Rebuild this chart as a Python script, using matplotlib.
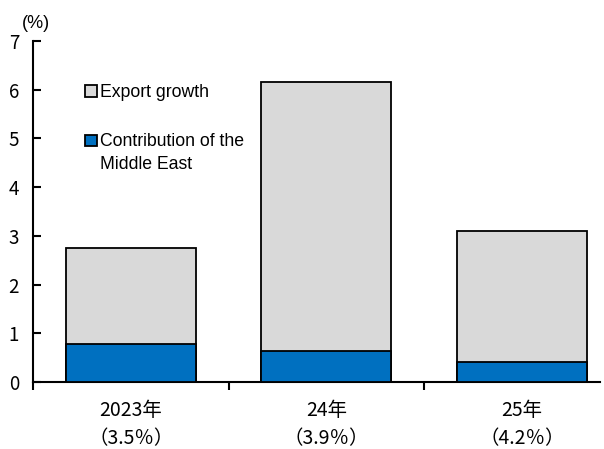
import matplotlib.pyplot as plt
from matplotlib.patches import Rectangle

# data
years = ["2023年", "24年", "25年"]
growth_notes = ["（3.5％）", "（3.9％）", "（4.2％）"]
export_growth = [2.75, 6.16, 3.10]
middle_east = [0.78, 0.64, 0.41]

gray = "#D9D9D9"
blue = "#0070C0"

plt.rcParams['font.family'] = ['Liberation Sans', 'Noto Sans CJK JP']
plt.rcParams['font.size'] = 12.7
narrow = ['Liberation Sans Narrow', 'Noto Sans CJK JP']

fig = plt.figure(figsize=(6.04, 4.49), dpi=100)
ax = fig.add_axes([33 / 604, 1 - 382 / 449, (600 - 33) / 604, (382 - 41) / 449])

x = list(range(len(years)))
ax.bar(x, export_growth, width=0.665, color=gray, edgecolor="black", linewidth=1.3, zorder=2)
ax.bar(x, middle_east, width=0.665, color=blue, edgecolor="black", linewidth=1.3, zorder=3)

ax.set_xlim(-0.5, 2.4)
ax.set_ylim(0, 7)
ax.set_yticks(range(0, 8))
ax.set_yticklabels([str(v) for v in range(0, 8)], family=narrow, fontsize=13.5)

# category ticks sit between the bars
ax.set_xticks([-0.5, 0.5, 1.5])
ax.set_xticklabels([])
ax.set_xticks(x, minor=True)
ax.set_xticklabels([f"{y}\n{n}" for y, n in zip(years, growth_notes)], minor=True,
                   family=narrow, fontsize=14, linespacing=1.45)
ax.tick_params(axis="x", which="major", direction="out", length=6, width=1.5)
ax.tick_params(axis="x", which="minor", length=0, pad=13)
ax.tick_params(axis="y", direction="in", length=6, width=1.5, pad=10)

for s in ["top", "right"]:
    ax.spines[s].set_visible(False)
for s in ["left", "bottom"]:
    ax.spines[s].set_linewidth(1.5)

ax.text(-0.02, 1.025, "(%)", transform=ax.transAxes, ha="left", va="bottom", fontsize=13)

# legend drawn by hand so the square lines up with the first text line
legend_items = [(gray, "Export growth", 0.853), (blue, "Contribution of the\nMiddle East", 0.708)]
for c, lab, yy in legend_items:
    ax.add_patch(Rectangle((0.092, yy - 0.017), 0.021, 0.034, transform=ax.transAxes,
                           facecolor=c, edgecolor="black", linewidth=1.3, clip_on=False))
    ax.text(0.118, yy + 0.022, lab, transform=ax.transAxes, ha="left", va="top", linespacing=1.45)

fig.savefig("out.png", dpi=100)
